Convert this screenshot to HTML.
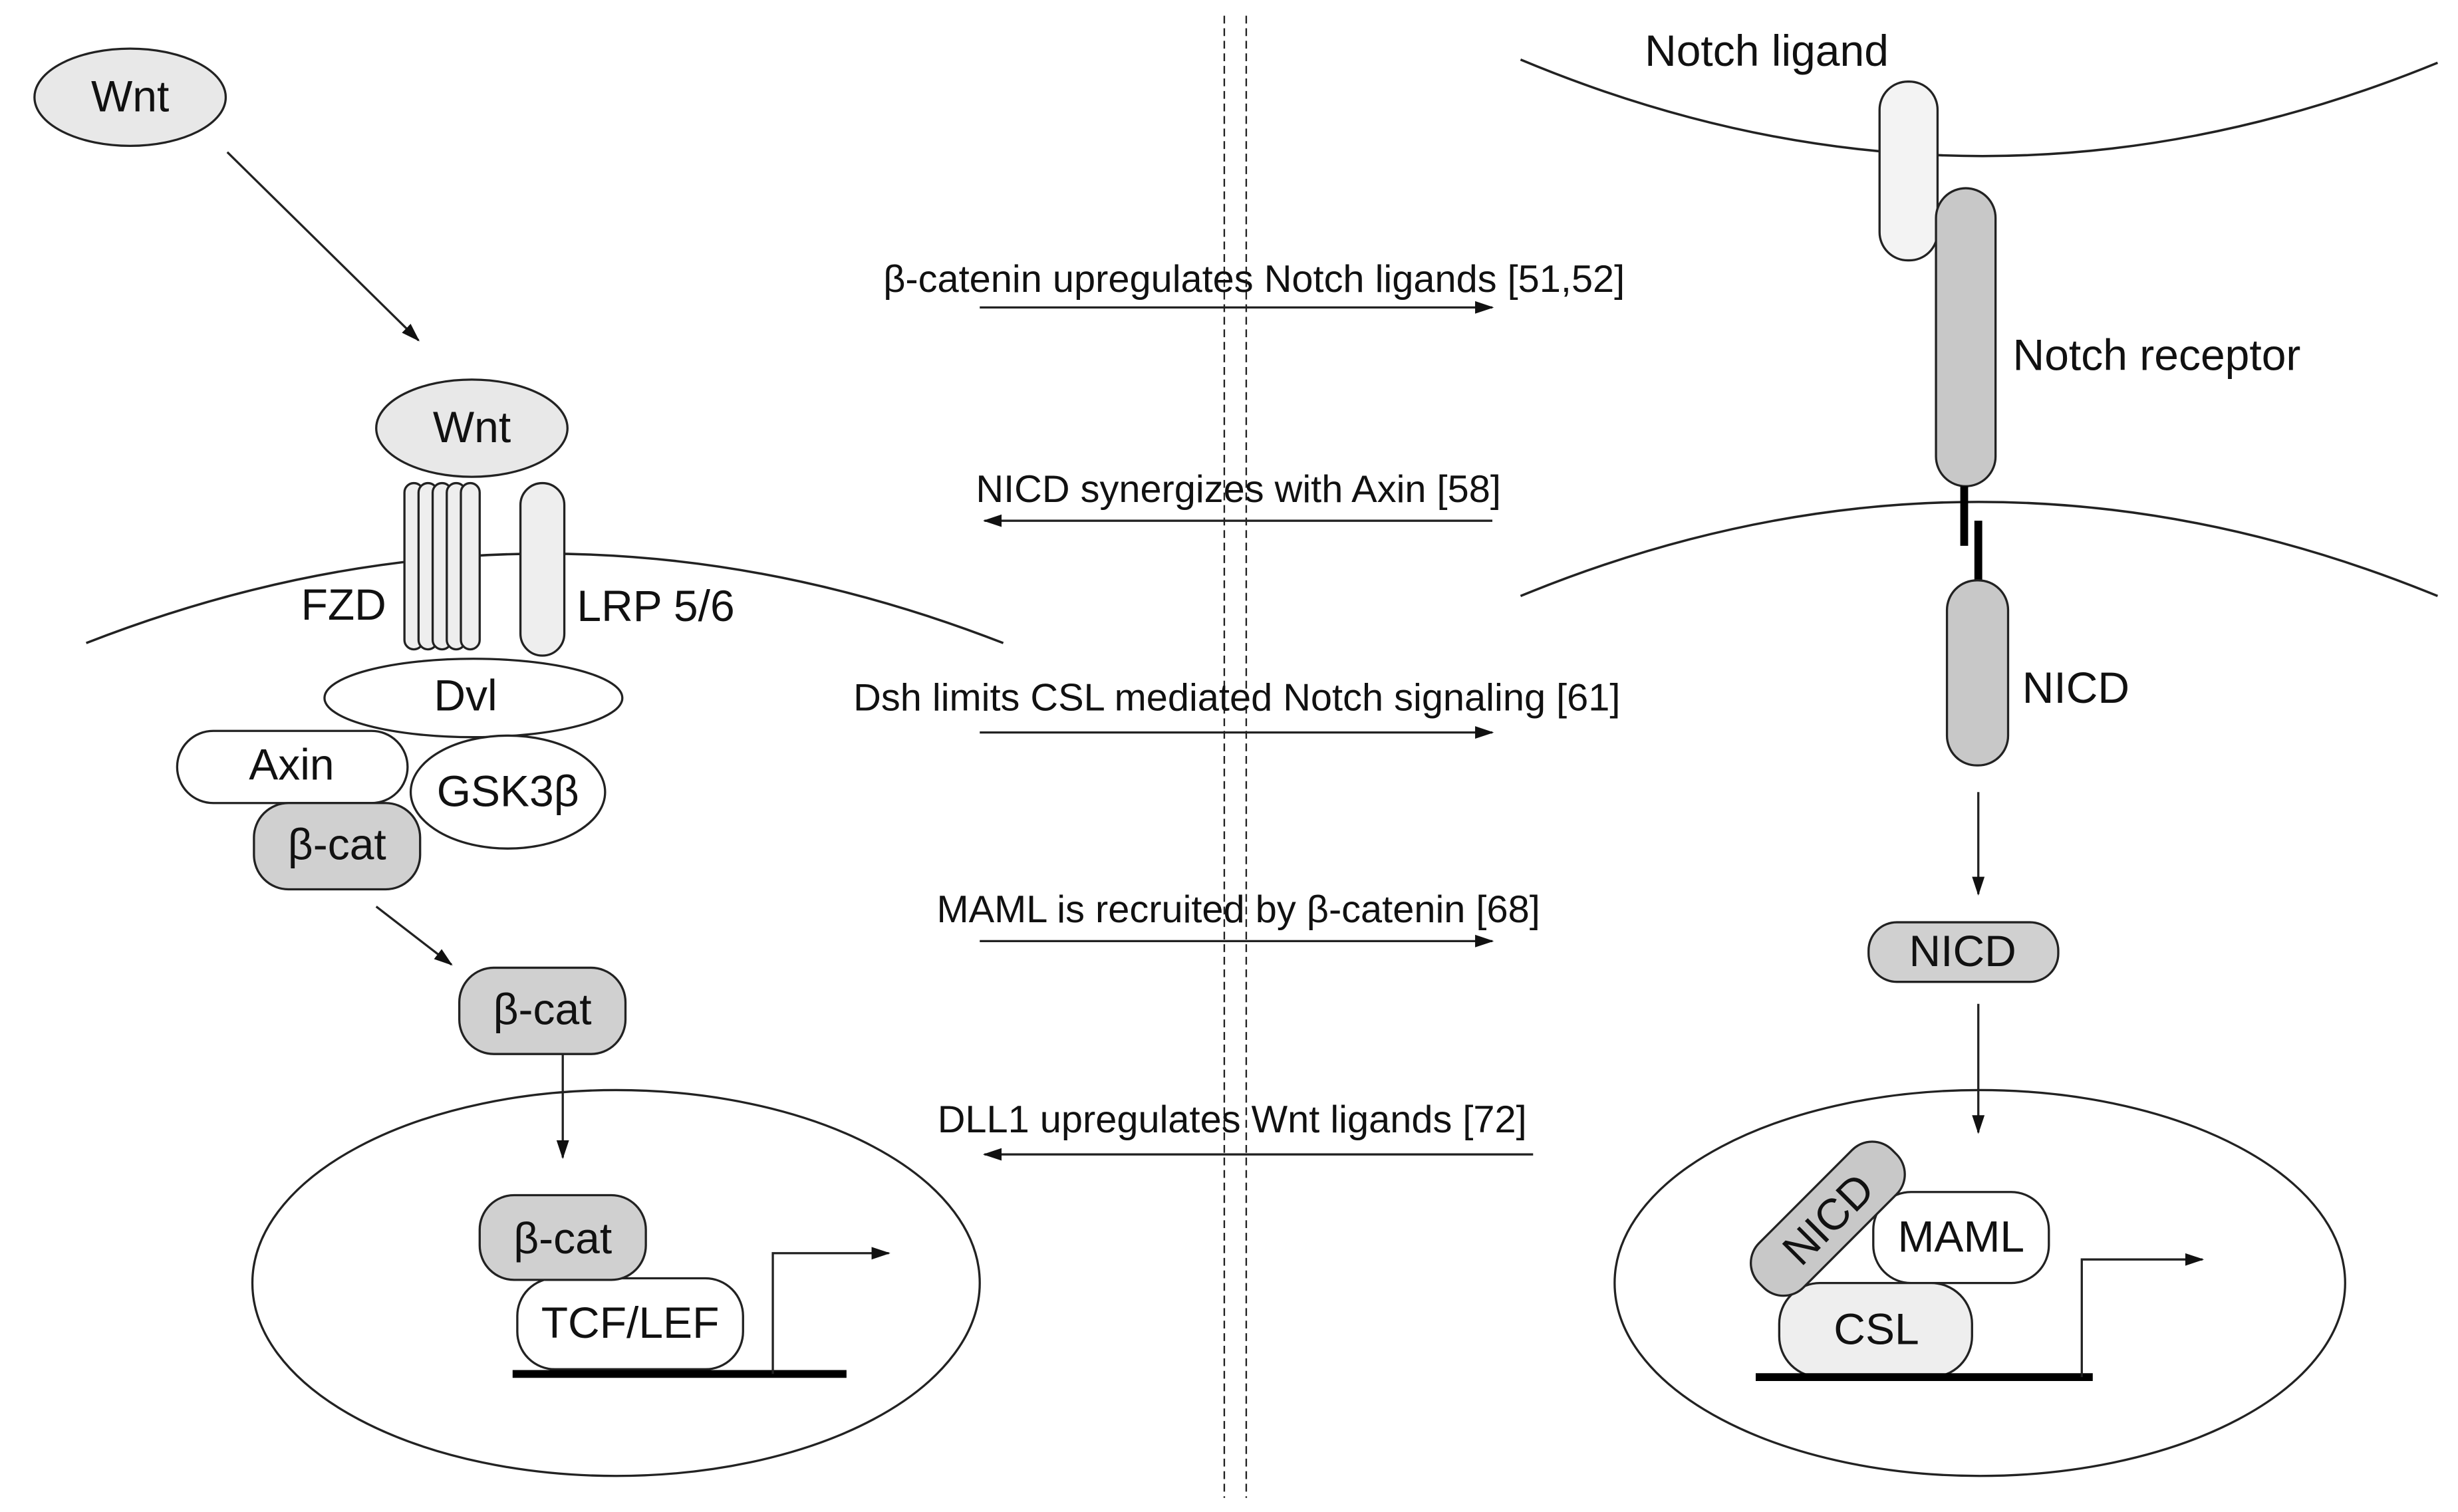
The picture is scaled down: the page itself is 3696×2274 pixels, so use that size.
<!DOCTYPE html>
<html><head><meta charset="utf-8"><style>
html,body{margin:0;padding:0;background:#fff;}
svg{display:block;}
text{font-family:"Liberation Sans",Arial,sans-serif;fill:#111;}
</style></head><body>
<svg width="3696" height="2274" viewBox="0 0 1568 964" preserveAspectRatio="none" xmlns="http://www.w3.org/2000/svg">
<defs>
<marker id="a" markerWidth="12" markerHeight="10" refX="11" refY="5" orient="auto" markerUnits="userSpaceOnUse" viewBox="0 0 12 10">
<path d="M0,1 L12,5 L0,9 Z" fill="#111"/></marker>
</defs>
<g stroke="#222" stroke-width="1.4" fill="none">
<line x1="781" y1="10" x2="781" y2="955" stroke-dasharray="5,3" stroke-width="1"/>
<line x1="795" y1="10" x2="795" y2="955" stroke-dasharray="5,3" stroke-width="1"/>

<ellipse cx="83" cy="62" rx="61" ry="31" fill="#e8e8e8"/>
<line x1="145" y1="97" x2="267" y2="217" marker-end="url(#a)"/>
<path d="M55,410 Q347,296 640,410" stroke-width="1.5"/>
<ellipse cx="301" cy="273" rx="61" ry="31" fill="#e8e8e8"/>
<rect x="258" y="308" width="12" height="106" rx="6" fill="#eee"/>
<rect x="267" y="308" width="12" height="106" rx="6" fill="#eee"/>
<rect x="276" y="308" width="12" height="106" rx="6" fill="#eee"/>
<rect x="285" y="308" width="12" height="106" rx="6" fill="#eee"/>
<rect x="294" y="308" width="12" height="106" rx="6" fill="#eee"/>
<rect x="332" y="308" width="28" height="110" rx="14" fill="#eee"/>
<ellipse cx="302" cy="445" rx="95" ry="25" fill="#fff"/>
<rect x="113" y="466" width="147" height="46" rx="23" fill="#fff"/>
<ellipse cx="324" cy="505" rx="62" ry="36" fill="#fff"/>
<rect x="162" y="512" width="106" height="55" rx="22" fill="#d0d0d0"/>
<line x1="240" y1="578" x2="288" y2="615" marker-end="url(#a)"/>
<rect x="293" y="617" width="106" height="55" rx="22" fill="#d0d0d0"/>
<line x1="359" y1="672" x2="359" y2="738" marker-end="url(#a)"/>
<ellipse cx="393" cy="818" rx="232" ry="123"/>
<rect x="330" y="815" width="144" height="58" rx="24" fill="#fff"/>
<rect x="306" y="762" width="106" height="54" rx="22" fill="#d0d0d0"/>
<line x1="327" y1="876" x2="540" y2="876" stroke="#000" stroke-width="5"/>
<path d="M493,876 V799 H567" marker-end="url(#a)"/>

<line x1="625" y1="196" x2="952" y2="196" marker-end="url(#a)"/>
<line x1="952" y1="332" x2="628" y2="332" marker-end="url(#a)"/>
<line x1="625" y1="467" x2="952" y2="467" marker-end="url(#a)"/>
<line x1="625" y1="600" x2="952" y2="600" marker-end="url(#a)"/>
<line x1="978" y1="736" x2="628" y2="736" marker-end="url(#a)"/>

<path d="M970,38 Q1262,160 1555,40" stroke-width="1.5"/>
<path d="M970,380 Q1262,260 1555,380" stroke-width="1.5"/>
<rect x="1199" y="52" width="37" height="114" rx="18" fill="#f3f3f3"/>
<rect x="1235" y="120" width="38" height="190" rx="19" fill="#c8c8c8"/>
<line x1="1253" y1="310" x2="1253" y2="348" stroke="#000" stroke-width="5"/>
<line x1="1262" y1="332" x2="1262" y2="372" stroke="#000" stroke-width="5"/>
<rect x="1242" y="370" width="39" height="118" rx="19" fill="#c8c8c8"/>
<line x1="1262" y1="505" x2="1262" y2="570" marker-end="url(#a)"/>
<rect x="1192" y="588" width="121" height="38" rx="18" fill="#d0d0d0"/>
<line x1="1262" y1="640" x2="1262" y2="722" marker-end="url(#a)"/>
<ellipse cx="1263" cy="818" rx="233" ry="123"/>
<rect x="1195" y="760" width="112" height="58" rx="24" fill="#fff"/>
<rect x="1135" y="818" width="123" height="60" rx="26" fill="#eee"/>
<rect x="1106" y="757" width="120" height="40" rx="18" fill="#c8c8c8" transform="rotate(-45 1166 777)"/>
<line x1="1120" y1="878" x2="1335" y2="878" stroke="#000" stroke-width="5"/>
<path d="M1328,878 V803 H1405" marker-end="url(#a)"/>
</g>

<g font-size="28">
<text x="83" y="71" text-anchor="middle">Wnt</text>
<text x="301" y="282" text-anchor="middle">Wnt</text>
<text x="192" y="395">FZD</text>
<text x="368" y="396">LRP 5/6</text>
<text x="297" y="453" text-anchor="middle">Dvl</text>
<text x="186" y="497" text-anchor="middle">Axin</text>
<text x="324" y="514" text-anchor="middle">GSK3β</text>
<text x="215" y="548" text-anchor="middle">β-cat</text>
<text x="346" y="653" text-anchor="middle">β-cat</text>
<text x="359" y="799" text-anchor="middle">β-cat</text>
<text x="402" y="853" text-anchor="middle">TCF/LEF</text>

<text x="800" y="186" text-anchor="middle" font-size="24.5">β-catenin upregulates Notch ligands [51,52]</text>
<text x="790" y="320" text-anchor="middle" font-size="24.5">NICD synergizes with Axin [58]</text>
<text x="789" y="453" text-anchor="middle" font-size="24.5">Dsh limits CSL mediated Notch signaling [61]</text>
<text x="790" y="588" text-anchor="middle" font-size="24.5">MAML is recruited by β-catenin [68]</text>
<text x="786" y="722" text-anchor="middle" font-size="24.5">DLL1 upregulates Wnt ligands [72]</text>

<text x="1127" y="42" text-anchor="middle">Notch ligand</text>
<text x="1284" y="236">Notch receptor</text>
<text x="1290" y="448">NICD</text>
<text x="1252" y="616" text-anchor="middle">NICD</text>
<text x="1251" y="798" text-anchor="middle">MAML</text>
<text x="1197" y="857" text-anchor="middle">CSL</text>
<text x="1166" y="787" text-anchor="middle" transform="rotate(-45 1166 777)">NICD</text>
</g>
</svg>
</body></html>
